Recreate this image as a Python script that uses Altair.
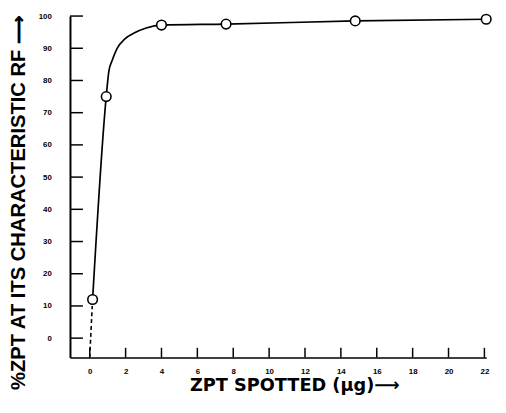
import altair as alt
import pandas as pd

# measured points
pt_x = [0.16, 0.92, 4.0, 7.6, 14.8, 22.1]
pt_y = [12, 75, 97.2, 97.5, 98.5, 99.0]

# drawn curve
curve_x = [0.16, 0.92, 1.07, 1.25, 1.52, 1.96, 2.5, 3.15, 4.0, 7.6, 14.8, 22.1]
curve_y = [12, 75, 83, 86.2, 89.9, 92.9, 94.8, 96.3, 97.2, 97.5, 98.5, 99.0]

# dashed extrapolation to the axis
dash_x = [0.14, 0.0]
dash_y = [10.0, -6.0]

x_ticks = [0, 2, 4, 6, 8, 10, 12, 14, 16, 18, 20, 22]
y_ticks = [0, 10, 20, 30, 40, 50, 60, 70, 80, 90, 100]

X_MIN, X_MAX = -1.1, 22.1
Y_MIN, Y_MAX = -6.0, 100.0

xs = alt.Scale(domain=[X_MIN, X_MAX], nice=False, zero=False)
ys = alt.Scale(domain=[Y_MIN, Y_MAX], nice=False, zero=False)

FONT = "Liberation Sans"

curve_df = pd.DataFrame({"x": curve_x, "y": curve_y})
pts_df = pd.DataFrame({"x": pt_x, "y": pt_y})
dash_df = pd.DataFrame({"x": dash_x, "y": dash_y})
ytick_df = pd.DataFrame({"yv": y_ticks, "x0": [X_MIN] * len(y_ticks), "x1": [X_MIN + 0.72] * len(y_ticks)})
xtick_df = pd.DataFrame({"xv": x_ticks, "y0": [Y_MIN] * len(x_ticks), "y1": [Y_MIN + 3.0] * len(x_ticks)})

x_axis = alt.Axis(
    values=x_ticks, ticks=False, tickSize=0, grid=False, domain=True,
    domainColor="black", domainWidth=1.6, labelFont=FONT, labelFontSize=8,
    labelFontWeight="bold", labelColor="black", labelPadding=10,
    labelOverlap=False, format="d",
    title="ZPT SPOTTED (µg)⟶", titleFont="DejaVu Sans", titleFontSize=18,
    titleFontWeight="bold", titleColor="black", titlePadding=2,
    titleX=228,
)
y_axis = alt.Axis(
    values=y_ticks, ticks=False, tickSize=0, grid=False, domain=True,
    domainColor="black", domainWidth=2, labelFont=FONT, labelFontSize=8,
    labelFontWeight="bold", labelColor="black", labelPadding=19,
    labelOverlap=False, format="d",
    title="%ZPT AT ITS CHARACTERISTIC RF ⟶", titleFont=FONT, titleFontSize=20.5,
    titleFontWeight="bold", titleColor="black", titlePadding=10,
    titleY=189,
)


def X(field):
    return alt.X(f"{field}:Q", scale=xs, axis=x_axis)


def Y(field):
    return alt.Y(f"{field}:Q", scale=ys, axis=y_axis)


line = alt.Chart(curve_df).mark_line(
    color="black", strokeWidth=1.7, interpolate="monotone"
).encode(x=X("x"), y=Y("y"))

dash = alt.Chart(dash_df).mark_line(
    color="black", strokeWidth=1.6, strokeDash=[4, 3]
).encode(x=X("x"), y=Y("y"))

yticks = alt.Chart(ytick_df).mark_rule(color="black", strokeWidth=1.5).encode(
    x=X("x0"), x2="x1:Q", y=Y("yv")
)

xticks = alt.Chart(xtick_df).mark_rule(color="black", strokeWidth=1.5).encode(
    x=X("xv"), y=Y("y0"), y2="y1:Q"
)

points = alt.Chart(pts_df).mark_point(
    shape="circle", filled=True, fill="white", stroke="black",
    strokeWidth=1.6, size=95, opacity=1
).encode(x=X("x"), y=Y("y"))

chart = alt.layer(line, yticks, xticks, dash, points).properties(
    width=498, height=390,
    autosize=alt.AutoSizeParams(type="fit", contains="padding"),
    padding={"left": 0, "top": 0, "right": 3, "bottom": 0},
    background="white",
).configure_view(stroke=None)

chart.save("out.html", embed_options={"renderer": "svg", "actions": False})
